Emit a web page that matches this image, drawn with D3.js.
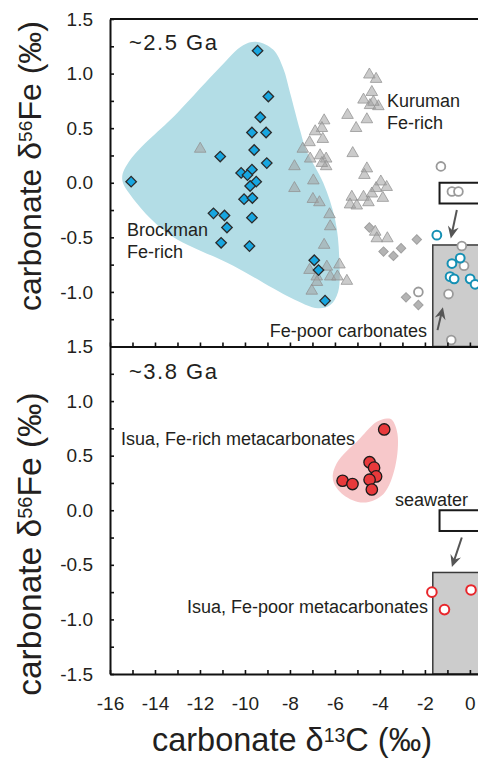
<!DOCTYPE html>
<html>
<head>
<meta charset="utf-8">
<script src="https://cdn.jsdelivr.net/npm/d3@7"></script>
<style>
  body { margin: 0; background: #fff; }
  svg text { font-family: "Liberation Sans", Arial, Helvetica, sans-serif; fill: #231f20; }
</style>
</head>
<body>
<div id="chart"></div>
<script>
/*
    DATA  (x = carbonate d13C, y = carbonate d56Fe)
*/
// ~2.5 Ga panel
let brockmanFeRich = [
  [-9.44, 1.21], [-8.96, 0.79], [-9.32, 0.60], [-9.69, 0.46], [-9.06, 0.46],
  [-9.59, 0.30], [-11.10, 0.24], [-9.03, 0.18], [-15.06, 0.01], [-10.17, 0.09],
  [-9.69, 0.12], [-9.89, 0.07], [-9.50, 0.01], [-9.77, -0.03], [-10.04, -0.15],
  [-9.67, -0.14], [-11.40, -0.28], [-10.91, -0.30], [-10.80, -0.41], [-9.69, -0.32],
  [-11.06, -0.55], [-9.80, -0.58], [-6.92, -0.71], [-6.73, -0.80], [-6.44, -1.08]
];
let kurumanFeRich = [
  [-4.47, 0.99], [-4.17, 0.95], [-4.36, 0.83], [-4.73, 0.76], [-4.44, 0.71], [-4.07, 0.70],
  [-4.29, 0.74], [-5.44, 0.62], [-4.58, 0.58], [-5.06, 0.50], [-6.48, 0.57], [-6.58, 0.50],
  [-6.88, 0.47], [-6.54, 0.40], [-7.13, 0.37], [-7.43, 0.31], [-5.21, 0.27], [-6.66, 0.25],
  [-6.39, 0.22], [-7.10, 0.22], [-6.39, 0.15], [-6.58, 0.18], [-7.80, 0.15], [-4.58, 0.13],
  [-4.69, 0.07], [-3.96, 0.01], [-6.96, 0.02], [-3.70, -0.04], [-4.17, -0.05], [-4.36, -0.10],
  [-3.87, -0.14], [-4.73, -0.13], [-5.25, -0.13], [-5.33, -0.20], [-5.03, -0.21], [-4.51, -0.18],
  [-7.80, -0.05], [-6.98, -0.15], [-6.69, -0.18], [-6.24, -0.29], [-6.21, -0.40], [-4.21, -0.45],
  [-4.14, -0.51], [-3.67, -0.51], [-6.48, -0.57], [-6.36, -0.77], [-5.80, -0.75], [-7.13, -0.80],
  [-6.81, -0.86], [-6.80, -0.91], [-6.21, -0.86], [-5.89, -0.86], [-5.47, -0.90], [-7.03, -0.99],
  [-11.99, 0.31]
];
let kurumanFePoor = [
  [-4.47, -0.41], [-3.84, -0.63], [-3.40, -0.67], [-3.06, -0.60], [-2.36, -0.52],
  [-2.84, -1.05], [-2.29, -1.12]
];
let grayOpenCircles = [
  [-1.29, 0.15], [-0.80, -0.08], [-0.51, -0.08], [-0.36, -0.58], [-0.26, -0.76],
  [-0.95, -1.02], [-2.29, -1.00], [-0.83, -1.44]
];
let brockmanFePoor = [
  [-1.47, -0.48], [-0.43, -0.69], [-0.80, -0.74], [-0.88, -0.86], [-0.70, -0.88],
  [0.01, -0.88], [0.23, -0.93]
];
let brockmanHull = [
  [-10.08, 1.26], [-9.46, 1.29], [-8.75, 1.22], [-8.30, 1.05], [-7.99, 0.82], [-7.55, 0.48],
  [-7.28, 0.30], [-6.52, 0.00], [-5.99, -0.34], [-5.81, -0.68], [-5.86, -1.00], [-6.21, -1.12],
  [-6.75, -1.15], [-7.99, -1.05], [-10.52, -0.76], [-13.46, -0.46], [-15.10, -0.11],
  [-15.46, 0.04], [-15.10, 0.21], [-13.01, 0.64], [-11.10, 1.06]
];

// ~3.8 Ga panel
let isuaFeRich = [
  [-3.81, 0.74], [-4.46, 0.44], [-4.26, 0.39], [-4.17, 0.31], [-4.46, 0.28],
  [-5.66, 0.27], [-5.22, 0.24], [-4.36, 0.19]
];
let isuaFePoor = [[-1.69, -0.75], [-1.13, -0.91], [0.05, -0.73]];
let isuaHull = [
  [-3.69, 0.84], [-3.47, 0.83], [-3.22, 0.70], [-3.32, 0.40], [-3.84, 0.15], [-4.73, 0.07],
  [-5.62, 0.14], [-6.09, 0.28], [-5.92, 0.43], [-4.88, 0.66], [-4.14, 0.81]
];

// shared boxes: seawater (white) and Fe-poor field (gray), [x0, y0, y1]
let seawaterBox = [-1.35, 0.0, -0.19];
let fePoorBox = [-1.65, -0.57, -1.5];
let arrowsTop = [[[-0.58, -0.25], [-0.85, -0.51]], [[-1.44, -1.35], [-1.20, -1.14]]];
let arrowsBot = [[[-0.36, -0.25], [-0.80, -0.52]]];

let X_TICKS = d3.range(-16, 1, 1);
let Y_TICKS = d3.range(-1.5, 1.51, 0.25);

/*
    LAYOUT
*/
let SIZE = { width: 478, height: 759 };
let PLOT = { left: 110, right: 478, top: 19, mid: 346.5, bot: 674 };

var svg = d3.select("#chart").append("svg")
    .attr("width", SIZE.width)
    .attr("height", SIZE.height);

var x = d3.scaleLinear().domain([-16, 0.36]).range([PLOT.left, PLOT.right]);
var yTop = d3.scaleLinear().domain([-1.5, 1.5]).range([PLOT.mid, PLOT.top]);
var yBot = d3.scaleLinear().domain([-1.5, 1.5]).range([PLOT.bot, PLOT.mid]);

function drawHull(y, pts, color) {
    var line = d3.line()
        .x(d => x(d[0])).y(d => y(d[1]))
        .curve(d3.curveCatmullRomClosed.alpha(0.5));
    svg.append("path").attr("d", line(pts)).attr("fill", color);
}

function drawBoxes(y) {
    svg.append("rect")
        .attr("x", x(fePoorBox[0])).attr("y", y(fePoorBox[1]))
        .attr("width", PLOT.right + 5 - x(fePoorBox[0]))
        .attr("height", y(fePoorBox[2]) - y(fePoorBox[1]))
        .attr("fill", "#cccccc").attr("stroke", "#3a3a3a").attr("stroke-width", 1.5);
    svg.append("rect")
        .attr("x", x(seawaterBox[0])).attr("y", y(seawaterBox[1]))
        .attr("width", PLOT.right + 5 - x(seawaterBox[0]))
        .attr("height", y(seawaterBox[2]) - y(seawaterBox[1]))
        .attr("fill", "#fff").attr("stroke", "#1a1a1a").attr("stroke-width", 2);
}

function drawArrows(y, arrows) {
    arrows.forEach(a => {
        var x0 = x(a[0][0]), y0 = y(a[0][1]), x1 = x(a[1][0]), y1 = y(a[1][1]);
        var ang = Math.atan2(y1 - y0, x1 - x0);
        svg.append("line")
            .attr("x1", x0).attr("y1", y0)
            .attr("x2", x1 - 7 * Math.cos(ang)).attr("y2", y1 - 7 * Math.sin(ang))
            .attr("stroke", "#555").attr("stroke-width", 2);
        svg.append("path")
            .attr("d", "M0,0L-12,-5.5L-8,0L-12,5.5Z")
            .attr("transform", `translate(${x1},${y1}) rotate(${ang * 180 / Math.PI})`)
            .attr("fill", "#555");
    });
}

function drawSymbols(y, pts, type, size, fill, stroke, sw, rot) {
    svg.append("g").selectAll("path")
        .data(pts)
        .enter()
        .append("path")
        .attr("d", d3.symbol().type(type).size(size))
        .attr("transform", d => `translate(${x(d[0])},${y(d[1])}) rotate(${rot || 0})`)
        .attr("fill", fill)
        .attr("stroke", stroke)
        .attr("stroke-width", sw);
}

function drawCircles(y, pts, r, fill, stroke, sw) {
    svg.append("g").selectAll("circle")
        .data(pts)
        .enter()
        .append("circle")
        .attr("cx", d => x(d[0])).attr("cy", d => y(d[1]))
        .attr("r", r)
        .attr("fill", fill).attr("stroke", stroke).attr("stroke-width", sw);
}

function label(y, xv, yv, lines, anchor, size, spacing) {
    var t = svg.append("text")
        .attr("x", x(xv)).attr("y", y(yv))
        .attr("text-anchor", anchor || "start")
        .style("font-size", (size || 18) + "px")
        .style("letter-spacing", (spacing || 0) + "px");
    lines.forEach((s, i) => {
        t.append("tspan").attr("x", x(xv)).attr("dy", i ? "1.2em" : 0).text(s);
    });
}

/*
    TOP PANEL (~2.5 Ga)
*/
drawHull(yTop, brockmanHull, "#b3dde6");
drawBoxes(yTop);
drawArrows(yTop, arrowsTop);
drawSymbols(yTop, kurumanFeRich, d3.symbolTriangle, 58, "rgba(160,160,160,0.55)", "rgba(145,145,145,0.75)", 1);
drawSymbols(yTop, kurumanFePoor, d3.symbolSquare, 44, "#b4b4b4", "#a0a0a0", 1, 45);
drawCircles(yTop, grayOpenCircles, 4.4, "#fff", "#9a9a9a", 1.8);
drawCircles(yTop, brockmanFePoor, 4.4, "#fff", "#1590b4", 2);
drawSymbols(yTop, brockmanFeRich, d3.symbolSquare, 55, "#17a6e0", "#2b2b2b", 1.3, 45);

label(yTop, -15.155, 1.215, ["~2.5 Ga"], "start", 22, 1.5);
label(yTop, -3.685, 0.694, ["Kuruman", "Fe-rich"]);
label(yTop, -15.244, -0.488, ["Brockman", "Fe-rich"]);
label(yTop, -1.91, -1.413, ["Fe-poor carbonates"], "end");

/*
    BOTTOM PANEL (~3.8 Ga)
*/
drawHull(yBot, isuaHull, "#f7c8ca");
drawBoxes(yBot);
drawArrows(yBot, arrowsBot);
drawCircles(yBot, isuaFeRich, 5.7, "#e8393b", "#1a1a1a", 1.3);
drawCircles(yBot, isuaFePoor, 4.8, "#fff", "#e8262b", 2);

label(yBot, -15.155, 1.202, ["~3.8 Ga"], "start", 22, 1.5);
label(yBot, -15.51, 0.598, ["Isua, Fe-rich metacarbonates"]);
label(yBot, -3.33, 0.039, ["seawater"]);
label(yBot, -1.86, -0.941, ["Isua, Fe-poor metacarbonates"], "end");

/*
    AXES
*/
function yAxis(y, g, skipBottom) {
    g.call(d3.axisLeft(y).tickValues(Y_TICKS).tickSize(-4).tickSizeOuter(0).tickPadding(17)
        .tickFormat(d => (Math.abs(d * 2 - Math.round(d * 2)) < 1e-6 && !(skipBottom && d === -1.5)) ? d.toFixed(1) : ""));
}
var gTop = svg.append("g").attr("transform", `translate(${PLOT.left},0)`);
yAxis(yTop, gTop, true);
var gBot = svg.append("g").attr("transform", `translate(${PLOT.left},0)`);
yAxis(yBot, gBot, false);

var gxTop = svg.append("g").attr("transform", `translate(0,${PLOT.mid})`)
    .call(d3.axisBottom(x).tickValues(X_TICKS).tickSize(-4).tickSizeOuter(0).tickFormat(""));
var gxBot = svg.append("g").attr("transform", `translate(0,${PLOT.bot})`)
    .call(d3.axisBottom(x).tickValues(X_TICKS).tickSize(-4).tickSizeOuter(0).tickPadding(23)
        .tickFormat(d => d % 2 === 0 ? String(d) : ""));

svg.selectAll(".domain").attr("stroke", "#111").attr("stroke-width", 2);
svg.selectAll(".tick line").attr("stroke", "#111").attr("stroke-width", 1.6);
svg.selectAll(".tick text").style("font-size", "19px").attr("fill", "#231f20");

svg.append("line")
    .attr("x1", PLOT.left).attr("x2", PLOT.right)
    .attr("y1", PLOT.top).attr("y2", PLOT.top)
    .attr("stroke", "#111").attr("stroke-width", 2);

// axis titles
function yTitle(cy, fs) {
    var t = svg.append("text")
        .attr("transform", `translate(41,${cy}) rotate(-90)`)
        .attr("text-anchor", "middle")
        .style("font-size", fs + "px");
    t.append("tspan").text("carbonate \u03b4");
    t.append("tspan").attr("dy", "-0.45em").style("font-size", "0.6em").text("56");
    t.append("tspan").attr("dy", "0.27em").text("Fe (\u2030)");
}
yTitle(166, 32);
yTitle(544, 33.5);

var xt = svg.append("text")
    .attr("x", (PLOT.left + PLOT.right) / 2 - 2).attr("y", 751)
    .attr("text-anchor", "middle")
    .style("font-size", "32.5px");
xt.append("tspan").text("carbonate \u03b4");
xt.append("tspan").attr("dy", "-0.45em").style("font-size", "0.6em").text("13");
xt.append("tspan").attr("dy", "0.27em").text("C (\u2030)");
</script>
</body>
</html>
